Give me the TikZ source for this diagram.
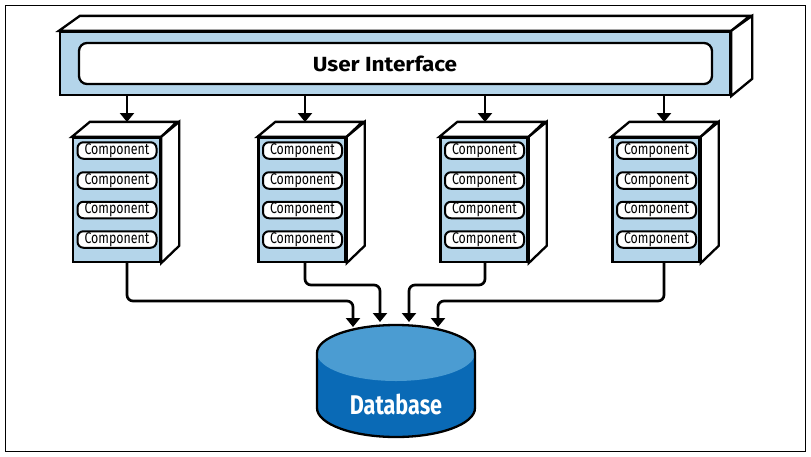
\documentclass[tikz,border=0pt]{standalone}
\usepackage{fontspec}
\setmainfont{Fira Sans}
\newfontfamily\narrow{Fira Sans}[FakeStretch=0.8]
\newfontfamily\wide{Fira Sans}[FakeStretch=1.1]
\usepackage{tikz}
\usetikzlibrary{arrows.meta,calc}
\definecolor{uiblue}{RGB}{180,213,234}
\definecolor{dbtop}{RGB}{75,156,210}
\definecolor{dbbody}{RGB}{10,106,182}

\begin{document}
\begin{tikzpicture}[>={Triangle[length=9pt,width=14pt]}, x=1pt, y=-1pt,
  face/.style={draw, line width=2.3pt, fill=uiblue, inner sep=0pt},
  side/.style={draw, line width=2.3pt, fill=white},
  comp/.style={draw, line width=2pt, fill=white, rounded corners=6pt, minimum width=79pt, minimum height=16.5pt, inner sep=0pt, font=\narrow\fontsize{15.5}{16}\selectfont},
  link/.style={->, line width=2.7pt, rounded corners=6pt}]
  \useasboundingbox (0,0) rectangle (811,456);
  \draw[line width=1pt] (5,5) rectangle (805,451);
  % user interface
  \node[face, minimum width=670pt, minimum height=63pt] (ui) at (395,63.5) {};
  \draw[side] (ui.north west) -- ++(21,-15) -- ++(670,0) -- (ui.north east) -- cycle;
  \draw[side] (ui.north east) -- ++(21,-15) -- ++(0,63) -- (ui.south east) -- cycle;
  \node[draw, line width=2.3pt, fill=white, rounded corners=8pt, minimum width=633pt, minimum height=41pt] (uibar) at (395.5,63.5) {};
  \node[font=\wide\fontsize{20.5}{23}\bfseries] (uilabel) at (385,63.5) {User Interface};
  % components
  \foreach \i/\x/\a in {1/116.5/127, 2/302/305, 3/484/485, 4/656/664} {
    \node[face, minimum width=87pt, minimum height=124pt] (c\i) at (\x,200) {};
    \draw[side] (c\i.north west) -- ++(18,-15) -- ++(87,0) -- (c\i.north east) -- cycle;
    \draw[side] (c\i.north east) -- ++(18,-15) -- ++(0,124) -- (c\i.south east) -- cycle;
    \foreach \j/\dy in {1/-49.5,2/-19.5,3/10,4/39.5}
      \node[comp] (c\i-\j) at ($(c\i)+(0.5,\dy)$) {Component};
    \coordinate (t\i) at (\a,122);
    \coordinate (b\i) at (t\i |- c\i.south);
    \draw[link] (t\i |- ui.south) -- (t\i);
  }
  % database
  \fill[dbbody] (317,353) -- (317,408) arc[start angle=180, end angle=360, x radius=79pt, y radius=29pt] -- (475,353) -- cycle;
  \fill[dbtop] (396,353) ellipse[x radius=79pt, y radius=28pt];
  \draw[line width=2.3pt] (317,408) -- (317,353) arc[start angle=180, end angle=0, x radius=79pt, y radius=28pt]
    -- (475,408) arc[start angle=0, end angle=-180, x radius=79pt, y radius=29pt] -- cycle;
  \node[font=\narrow\fontsize{27}{30}\bfseries, text=white] (db) at (396,404) {Database};
  % links to database
  \coordinate (r1) at (0,301);
  \coordinate (r2) at (0,285);
  \coordinate (d1) at (353,327);
  \coordinate (d2) at (380,322);
  \coordinate (d3) at (409,322);
  \coordinate (d4) at (438,327);
  \draw[link] (b1) |- (d1 |- r1) -- (d1);
  \draw[link] (b2) |- (d2 |- r2) -- (d2);
  \draw[link] (b3) |- (d3 |- r2) -- (d3);
  \draw[link] (b4) |- (d4 |- r1) -- (d4);
\end{tikzpicture}
\end{document}
